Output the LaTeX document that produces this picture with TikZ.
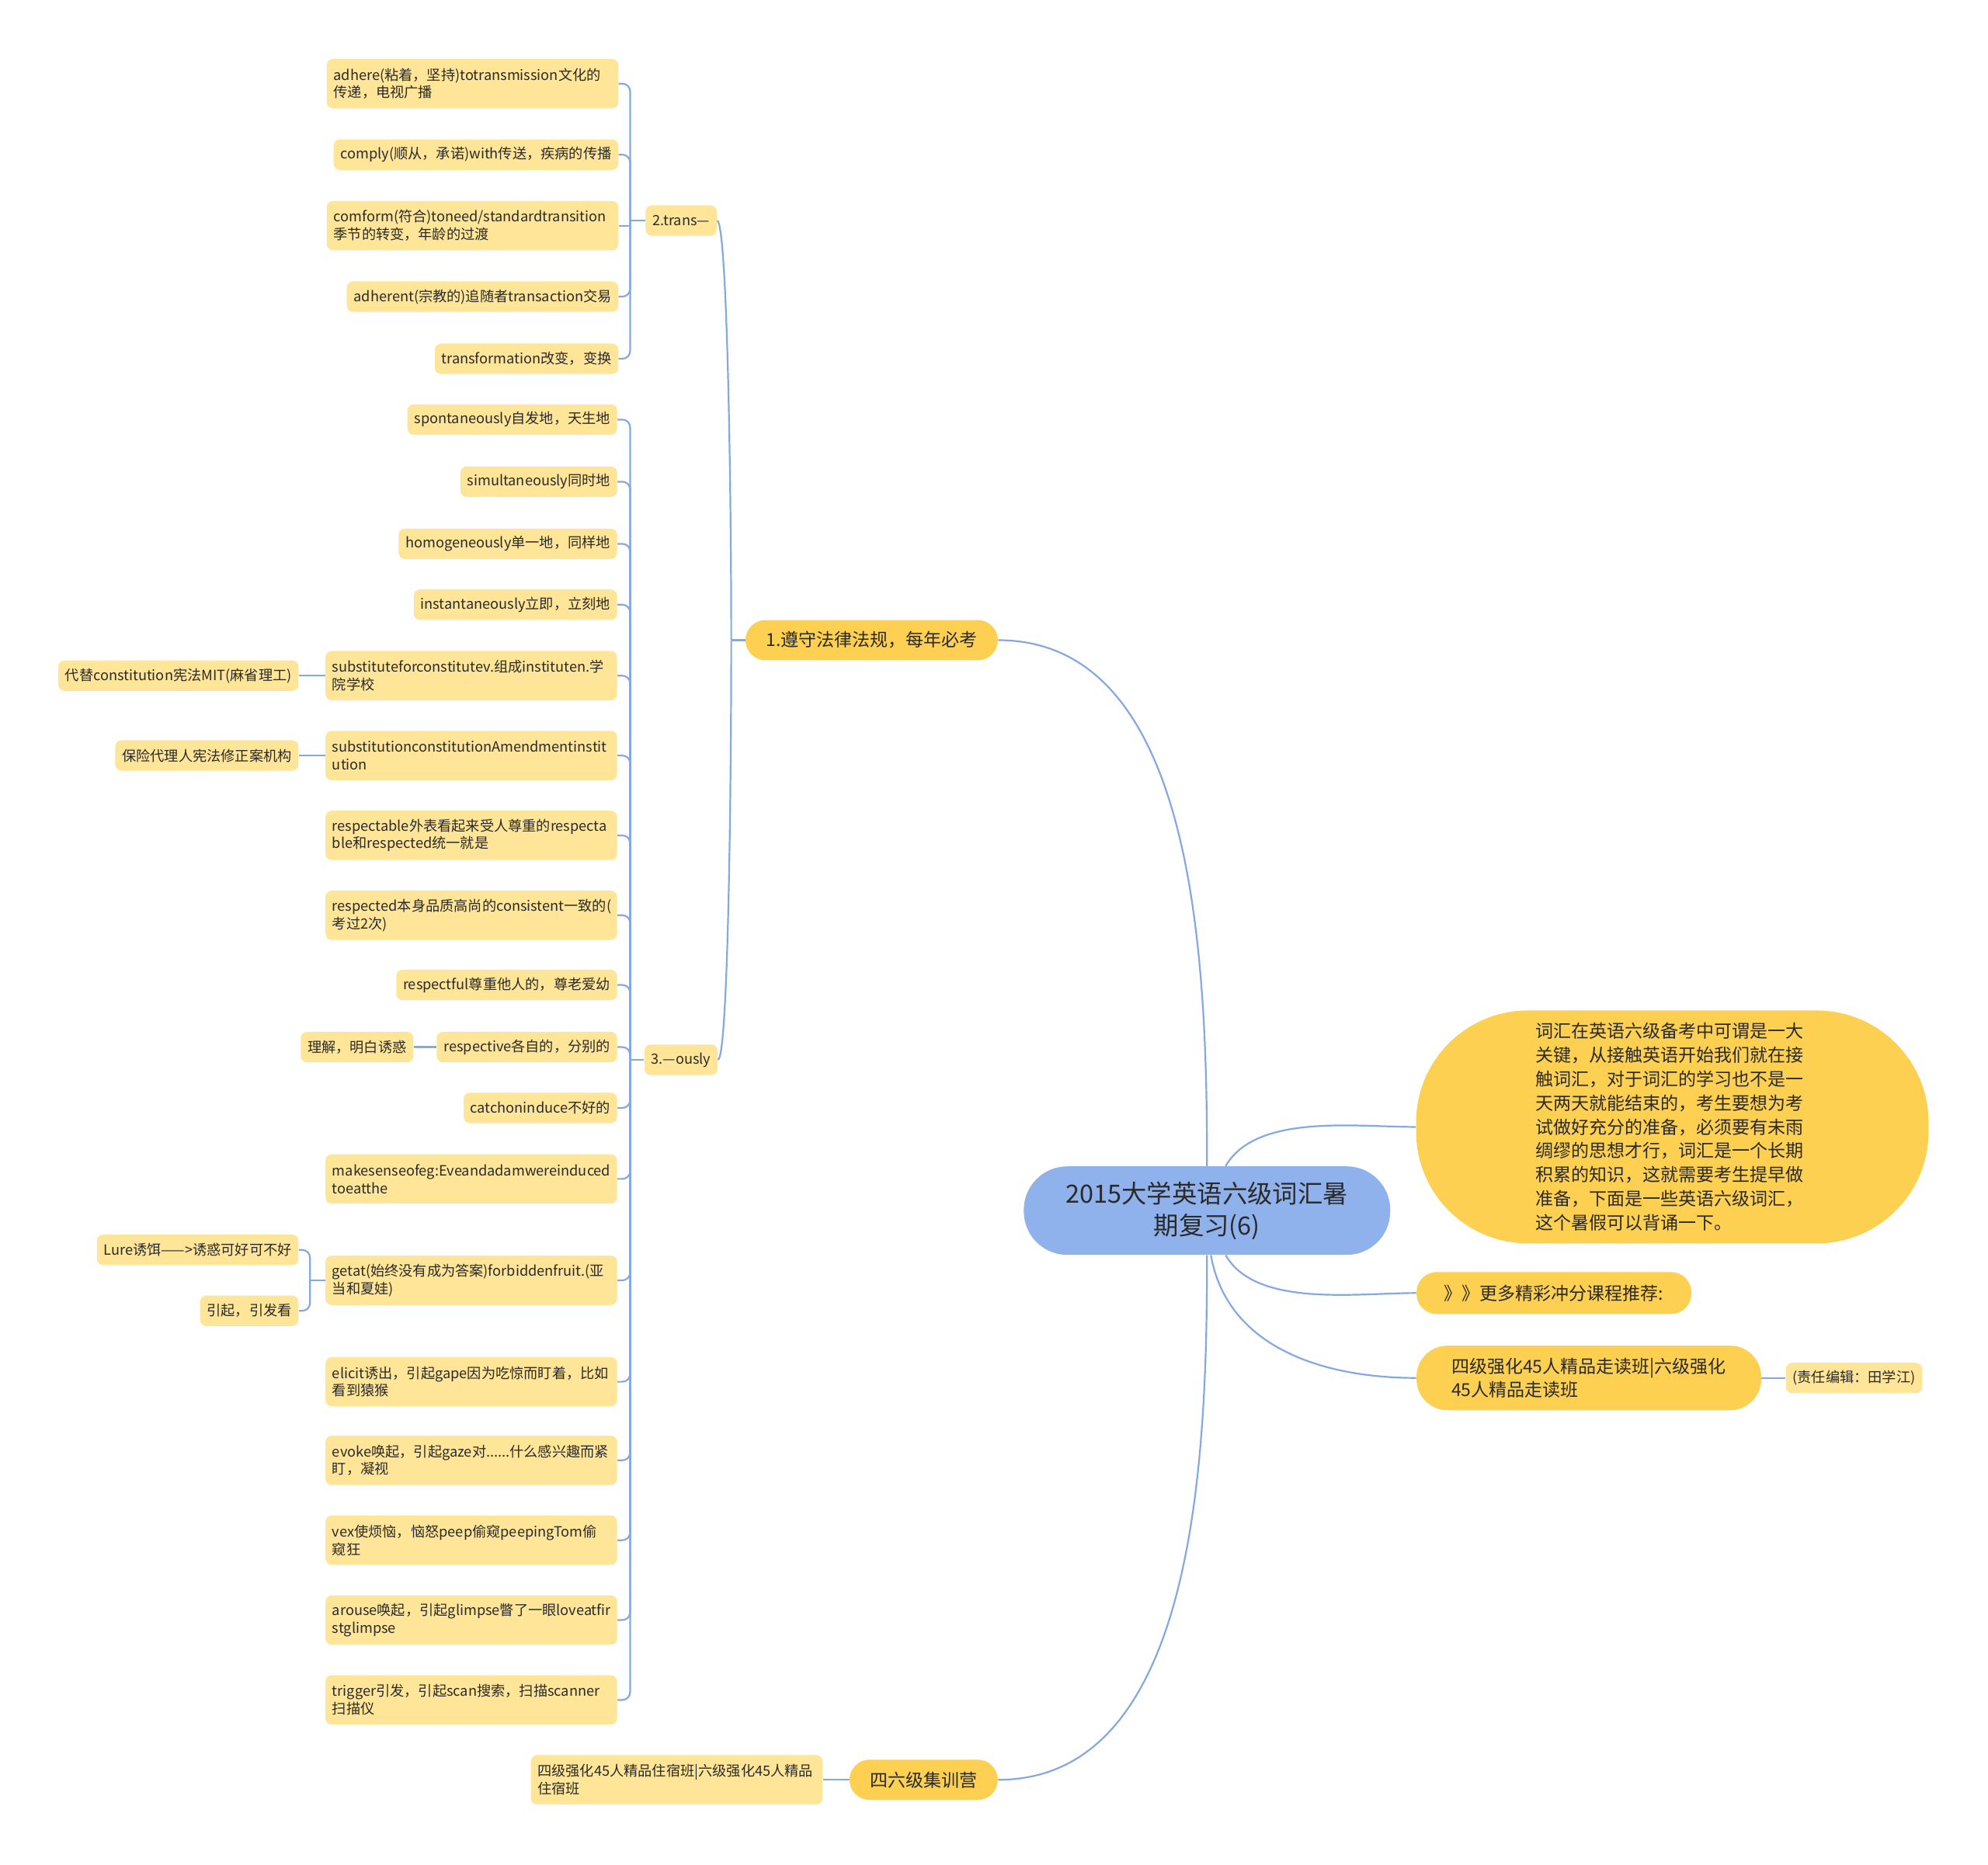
\documentclass[tikz,border=0pt]{standalone}
\usepackage{fontspec}
\setmainfont{Noto Sans CJK SC}
\usetikzlibrary{positioning}
\definecolor{rootBlue}{HTML}{8FB2EC}
\definecolor{mainGold}{HTML}{FDD052}
\definecolor{leafYellow}{HTML}{FEE598}
\definecolor{linkBlue}{HTML}{86A8E0}
\definecolor{inkDark}{HTML}{2A2A2A}
\hyphenpenalty=10000
\exhyphenpenalty=10000

\begin{document}
\begin{tikzpicture}[
        x=0.8165pt, y=-0.8165pt,
        rootnode/.style={
            fill=rootBlue,
            text=inkDark,
            rounded corners=28pt,
            minimum width=236pt,
            minimum height=57pt,
            align=center,
            font=\fontsize{16.2}{20.4}\selectfont
        },
        mainnode/.style={
            fill=mainGold,
            text=inkDark,
            rounded corners=13pt,
            minimum height=26pt,
            inner xsep=8pt,
            align=left,
            font=\fontsize{11.5}{15.4}\selectfont
        },
        leaf/.style={
            fill=leafYellow,
            text=inkDark,
            rounded corners=4pt,
            minimum height=19.6pt,
            inner xsep=4.4pt,
            inner ysep=2pt,
            font=\fontsize{9.1}{11.4}\selectfont
        },
        leafwide/.style={
            leaf,
            minimum height=31.8pt,
            text width=179pt,
            align=left
        },
        link/.style={draw=linkBlue, line width=1.1pt},
        tree/.style={link, rounded corners=5pt}
    ]

    \fill[white] (0,0) rectangle (1568,1471);
    \useasboundingbox (0,0) rectangle (1568,1471);

    % centre
    \node[rootnode] (root) at (952,955) {2015大学英语六级词汇暑\\期复习(6)};

    % right side
    \node[mainnode, minimum width=330pt, minimum height=150pt, rounded corners=72pt,
          text width=176pt, inner xsep=0pt] (intro) at (1319,889)
        {词汇在英语六级备考中可谓是一大\\关键，从接触英语开始我们就在接\\触词汇，对于词汇的学习也不是一\\天两天就能结束的，考生要想为考\\试做好充分的准备，必须要有未雨\\绸缪的思想才行，词汇是一个长期\\积累的知识，这就需要考生提早做\\准备，下面是一些英语六级词汇，\\这个暑假可以背诵一下。};
    \node[mainnode, minimum width=177pt, minimum height=27pt, anchor=west] (more) at (1117,1020) {》》更多精彩冲分课程推荐:};
    \node[mainnode, minimum width=222pt, minimum height=41.6pt, rounded corners=20pt, anchor=west] (walk) at (1117,1087) {四级强化45人精品走读班|六级强化\\45人精品走读班};
    \node[leaf, right=15.5pt of walk] (editor) {(责任编辑：田学江)};

    % left side
    \node[mainnode, minimum width=162.5pt] (law) at (687.5,505) {1.遵守法律法规，每年必考};
    \node[mainnode, minimum width=95.5pt] (camp) at (728.5,1404) {四六级集训营};
    \node[leafwide, left=17pt of camp] (stay) {四级强化45人精品住宿班|六级强化45人精品\\住宿班};

    % 2.trans
    \node[leaf, anchor=west] (trans) at (509,174) {2.trans—};
    \node[leafwide, anchor=east] (a1) at (488,66) {adhere(粘着，坚持)totransmission文化的\\传递，电视广播};
    \node[leaf, anchor=east] (a2) at (488,122) {comply(顺从，承诺)with传送，疾病的传播};
    \node[leafwide, anchor=east] (a3) at (488,178) {comform(符合)toneed/standardtransition\\季节的转变，年龄的过渡};
    \node[leaf, anchor=east] (a4) at (488,234) {adherent(宗教的)追随者transaction交易};
    \node[leaf, anchor=east] (a5) at (488,283) {transformation改变，变换};

    % 3.ously
    \node[leaf, anchor=west] (ously) at (508,836) {3.—ously};
    \foreach \n/\y/\txt in {
        o1/331/spontaneously自发地，天生地,
        o2/380/simultaneously同时地,
        o3/429/homogeneously单一地，同样地,
        o4/477/instantaneously立即，立刻地,
        o9/777/respectful尊重他人的，尊老爱幼,
        o10/826/respective各自的，分别的,
        o11/874/catchoninduce不好的}
        \node[leaf, anchor=east] (\n) at (487,\y) {\txt};
    \foreach \n/\y/\txt in {
        o5/533/{substituteforconstitutev.组成instituten.学\\院学校},
        o6/596/{substitutionconstitutionAmendmentinstit\\ution},
        o7/659/{respectable外表看起来受人尊重的respecta\\ble和respected统一就是},
        o8/722/{respected本身品质高尚的consistent一致的(\\考过2次)},
        o12/930/{makesenseofeg:Eveandadamwereinduced\\toeatthe},
        o13/1010/{getat(始终没有成为答案)forbiddenfruit.(亚\\当和夏娃)},
        o14/1090/{elicit诱出，引起gape因为吃惊而盯着，比如\\看到猿猴},
        o15/1152/{evoke唤起，引起gaze对......什么感兴趣而紧\\盯，凝视},
        o16/1215/{vex使烦恼，恼怒peep偷窥peepingTom偷\\窥狂},
        o17/1278/{arouse唤起，引起glimpse瞥了一眼loveatfir\\stglimpse},
        o18/1341/{trigger引发，引起scan搜索，扫描scanner\\扫描仪}}
        \node[leafwide, anchor=east] (\n) at (487,\y) {\txt};

    \node[leaf, left=17pt of o5] (o5a) {代替constitution宪法MIT(麻省理工)};
    \node[leaf, left=17pt of o6] (o6a) {保险代理人宪法修正案机构};
    \node[leaf, left=14.7pt of o10] (o10a) {理解，明白诱惑};
    \node[leaf, left=17pt of o13, yshift=19.6pt] (o13a) {Lure诱饵——>诱惑可好可不好};
    \node[leaf, left=17pt of o13, yshift=-19.6pt] (o13b) {引起，引发看};

    % connectors from the centre
    \draw[link] (law.east) to[out=0,in=90,looseness=0.9] (root.north);
    \draw[link] (root.south) to[out=-90,in=0,looseness=0.9] (camp.east);
    \draw[link] ([xshift=12pt]root.north) to[out=60,in=180,looseness=0.8] (intro.west);
    \draw[link] ([xshift=12pt]root.south) to[out=-60,in=180,looseness=0.8] (more.west);
    \draw[link] ([xshift=2.5pt]root.south) to[out=-80,in=180] (walk.west);
    \draw[link] (walk.east) -- (editor.west);
    \draw[link] (stay.east) -- (camp.west);

    % spine of 1.
    \draw[link] (law.west) -- ++(-11,0) coordinate (lawj);
    \draw[link] (trans.east) .. controls +(8,0) and +(0,-120) .. (lawj);
    \draw[link] (ously.east) .. controls +(8,0) and +(0,120) .. (lawj);

    % spine of 2.
    \draw[link] (trans.west) -- ++(-12,0) coordinate (transj);
    \foreach \n in {a1,a2,a4,a5} \draw[tree] (\n.east) -| (transj);
    \draw[link] (a3.east) -- (a3.east -| transj);

    % spine of 3.
    \draw[link] (ously.west) -- ++(-11,0) coordinate (ouslyj);
    \foreach \i in {1,...,18} \draw[tree] (o\i.east) -| (ouslyj);

    \draw[link] (o5a.east) -- (o5.west);
    \draw[link] (o6a.east) -- (o6.west);
    \draw[link] (o10a.east) -- (o10.west);
    \draw[link] (o13.west) -- ++(-12,0) coordinate (o13j);
    \draw[tree] (o13a.east) -| (o13j);
    \draw[tree] (o13b.east) -| (o13j);

\end{tikzpicture}
\end{document}
